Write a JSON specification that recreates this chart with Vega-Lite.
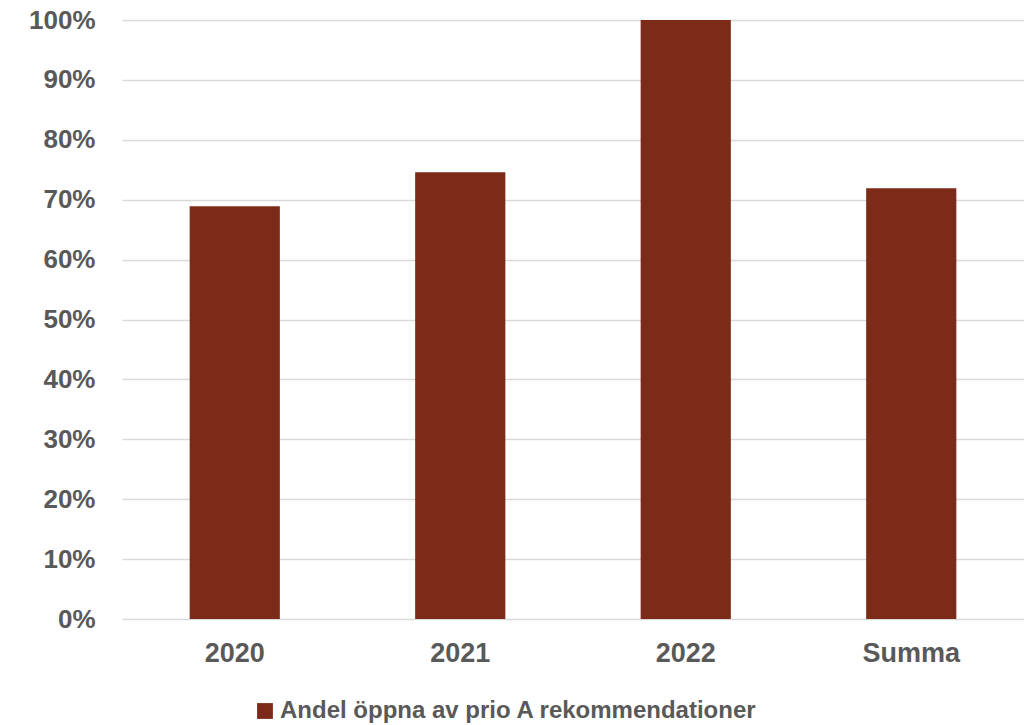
{
  "$schema": "https://vega.github.io/schema/vega-lite/v6.json",
  "autosize": {"type": "none"},
  "padding": {"left": 122, "top": 20, "right": 0, "bottom": 106},
  "width": 902,
  "height": 599,
  "background": "white",
  "config": {
    "view": {"stroke": null},
    "font": "Liberation Sans"
  },
  "data": {
    "values": [
      {"kategori": "2020", "andel": 0.689, "serie": "Andel öppna av prio A rekommendationer"},
      {"kategori": "2021", "andel": 0.746, "serie": "Andel öppna av prio A rekommendationer"},
      {"kategori": "2022", "andel": 1.0, "serie": "Andel öppna av prio A rekommendationer"},
      {"kategori": "Summa", "andel": 0.719, "serie": "Andel öppna av prio A rekommendationer"}
    ]
  },
  "mark": {"type": "bar"},
  "encoding": {
    "x": {
      "field": "kategori",
      "type": "nominal",
      "sort": null,
      "scale": {"paddingInner": 0.6, "paddingOuter": 0.3},
      "axis": {
        "title": null,
        "labelAngle": 0,
        "domain": false,
        "ticks": false,
        "tickSize": 0,
        "labelPadding": 21,
        "labelFont": "Liberation Sans",
        "labelFontSize": 27,
        "labelFontWeight": "bold",
        "labelColor": "#595959"
      }
    },
    "y": {
      "field": "andel",
      "type": "quantitative",
      "scale": {"domain": [0, 1]},
      "axis": {
        "title": null,
        "format": ".0%",
        "values": [0, 0.1, 0.2, 0.3, 0.4, 0.5, 0.6, 0.7, 0.8, 0.9, 1.0],
        "domain": false,
        "ticks": false,
        "tickSize": 0,
        "labelPadding": 27,
        "labelFont": "Liberation Sans",
        "labelFontSize": 26,
        "labelFontWeight": "bold",
        "labelColor": "#595959",
        "gridColor": "#D9D9D9",
        "gridWidth": 1.5
      }
    },
    "color": {
      "field": "serie",
      "type": "nominal",
      "scale": {"range": ["#7C2B18"]},
      "legend": {
        "title": null,
        "orient": "none",
        "legendX": 131,
        "legendY": 679,
        "padding": 0,
        "symbolType": "square",
        "symbolSize": 250,
        "symbolStrokeWidth": 0,
        "labelOffset": 3,
        "labelFont": "Liberation Sans",
        "labelFontSize": 24,
        "labelFontWeight": "bold",
        "labelColor": "#595959",
        "labelLimit": 800
      }
    }
  }
}
